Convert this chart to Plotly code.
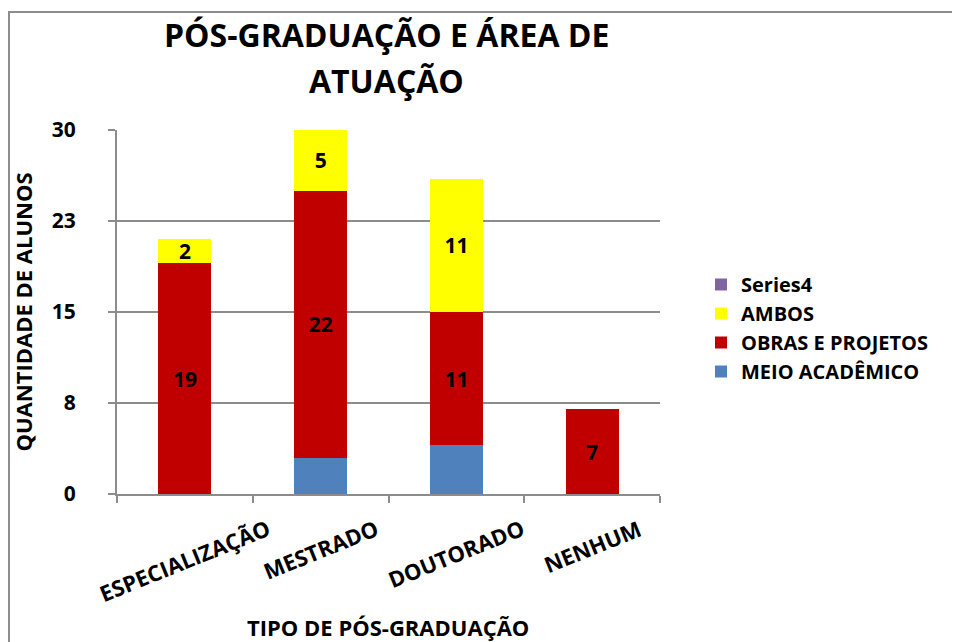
import plotly.graph_objects as go

categories = ["ESPECIALIZAÇÃO", "MESTRADO", "DOUTORADO", "NENHUM"]
meio_academico = [0, 3, 4, 0]
obras_projetos = [19, 22, 11, 7]
ambos = [2, 5, 11, 0]
series4 = [None, None, None, None]
y_tickvals = [0, 7.5, 15, 22.5, 30]
y_ticktext = ["0", "8", "15", "23", "30"]

FONT = "Open Sans, Noto Sans, DejaVu Sans, sans-serif"
GRAY = "#8c8c8c"

# the page body adds an 8px offset; plot area in reference pixels: x 117-660, y 130-494
PX0, PY0, PW, PH = 117, 494, 543, 364

def px(xp):
    return (xp - PX0) / PW

def py(yp):
    return (PY0 - yp) / PH

def labels(vals):
    return [str(v) if v else "" for v in vals]

fig = go.Figure()
fig.add_trace(go.Bar(name="MEIO ACADÊMICO", x=categories, y=meio_academico,
                     marker_color="#4F81BD", marker_line_width=0))
fig.add_trace(go.Bar(name="OBRAS E PROJETOS", x=categories, y=obras_projetos,
                     marker_color="#C00000", marker_line_width=0,
                     text=labels(obras_projetos), textposition="inside",
                     insidetextanchor="middle"))
fig.add_trace(go.Bar(name="AMBOS", x=categories, y=ambos,
                     marker_color="#FFFF00", marker_line_width=0,
                     text=labels(ambos), textposition="inside",
                     insidetextanchor="middle"))
fig.add_trace(go.Bar(name="Series4", x=categories, y=series4,
                     marker_color="#8064A2", marker_line_width=0))

fig.update_traces(textfont=dict(family=FONT, size=21, color="black", weight="bold"),
                  constraintext="none", textangle=0)

fig.update_layout(
    barmode="stack",
    bargap=0.61,
    width=952, height=634,
    margin=dict(l=109, r=300, t=122, b=148, autoexpand=False),
    paper_bgcolor="white", plot_bgcolor="white",
    font=dict(family=FONT, color="black"),
    uniformtext=dict(minsize=21, mode="show"),
    showlegend=True,
    legend=dict(x=px(701), y=py(328), xanchor="left", yanchor="middle",
                traceorder="reversed", tracegroupgap=0,
                font=dict(family=FONT, size=20, color="black", weight="bold"),
                bgcolor="rgba(0,0,0,0)"),
    xaxis=dict(range=[-0.5, len(categories) - 0.5], autorange=False,
               showline=True, linecolor=GRAY, linewidth=2,
               ticks="outside", tickson="boundaries", ticklen=7, tickcolor=GRAY, tickwidth=2,
               showticklabels=False, showgrid=False),
    yaxis=dict(range=[0, 30], autorange=False, tickvals=y_tickvals, ticktext=y_ticktext,
               showline=True, linecolor=GRAY, linewidth=2,
               ticks="outside", ticklen=7, tickcolor=GRAY, tickwidth=2,
               showgrid=True, gridcolor=GRAY, gridwidth=2, zeroline=False,
               ticklabelstandoff=28,
               tickfont=dict(family=FONT, size=21, weight="bold"),
               title=dict(text="QUANTIDADE DE ALUNOS", standoff=16,
                          font=dict(family=FONT, size=22, weight="bold"))),
)

# chart frame
fig.add_shape(type="rect", xref="paper", yref="paper",
              x0=px(9), x1=1.6, y0=-0.6, y1=py(12),
              line=dict(color=GRAY, width=2), fillcolor="rgba(0,0,0,0)", layer="below")

# title (two lines)
title_lines = ["PÓS-GRADUAÇÃO E ÁREA DE", "ATUAÇÃO"]
for txt, ypix in zip(title_lines, [34, 80]):
    fig.add_annotation(text=txt, xref="paper", yref="paper", x=px(386), y=py(ypix),
                       xanchor="center", yanchor="middle", showarrow=False,
                       font=dict(family=FONT, size=32, color="black", weight="bold"))

# x-axis title near the lower edge, kept fully visible
fig.add_annotation(text="TIPO DE PÓS-GRADUAÇÃO", xref="paper", yref="paper",
                   x=px(388), y=py(627), xanchor="center", yanchor="middle", showarrow=False,
                   font=dict(family=FONT, size=22, color="black", weight="bold"))

# rotated category labels centred under each bar, tops aligned
for c in categories:
    fig.add_annotation(text=c, x=c, xref="x", yref="paper", y=py(510),
                       xanchor="center", yanchor="top", showarrow=False, textangle=-22,
                       font=dict(family=FONT, size=22, color="black", weight="bold"))

fig.write_html("out.html")
